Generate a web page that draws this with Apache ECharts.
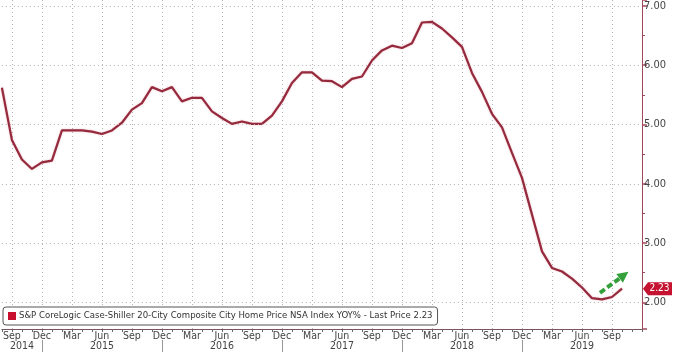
<!DOCTYPE html>
<html>
<head>
<meta charset="utf-8">
<script src="https://cdn.jsdelivr.net/npm/echarts@6/dist/echarts.min.js"></script>
<style>
html,body{margin:0;padding:0;background:#fff;}
#chart{width:680px;height:358px;}
</style>
</head>
<body>
<div id="chart"></div>
<script>
// Monthly positions on the axis (Aug 2014 .. Dec 2019)
const categories = [
  '2014-08','2014-09','2014-10','2014-11','2014-12',
  '2015-01','2015-02','2015-03','2015-04','2015-05','2015-06','2015-07','2015-08','2015-09','2015-10','2015-11','2015-12',
  '2016-01','2016-02','2016-03','2016-04','2016-05','2016-06','2016-07','2016-08','2016-09','2016-10','2016-11','2016-12',
  '2017-01','2017-02','2017-03','2017-04','2017-05','2017-06','2017-07','2017-08','2017-09','2017-10','2017-11','2017-12',
  '2018-01','2018-02','2018-03','2018-04','2018-05','2018-06','2018-07','2018-08','2018-09','2018-10','2018-11','2018-12',
  '2019-01','2019-02','2019-03','2019-04','2019-05','2019-06','2019-07','2019-08','2019-09','2019-10','2019-11','2019-12'
];
// S&P CoreLogic Case-Shiller 20-City YoY %
const values = [
  5.62, 4.74, 4.41, 4.25, 4.36, 4.39, 4.90, 4.90, 4.90, 4.88, 4.84, 4.90,
  5.03, 5.25, 5.36, 5.63, 5.56, 5.63, 5.39, 5.45, 5.45, 5.22, 5.11, 5.01,
  5.05, 5.01, 5.01, 5.15, 5.39, 5.70, 5.88, 5.88, 5.74, 5.73, 5.63, 5.77,
  5.81, 6.08, 6.25, 6.33, 6.29, 6.37, 6.72, 6.73, 6.62, 6.47, 6.31, 5.87,
  5.55, 5.18, 4.95, 4.52, 4.10, 3.48, 2.86, 2.58, 2.52, 2.40, 2.25, 2.07,
  2.05, 2.09, 2.23
];
const monthNames = ['Jan','Feb','Mar','Apr','May','Jun','Jul','Aug','Sep','Oct','Nov','Dec'];
const labelMonths = [3, 6, 9, 12];
const yearLabelAt = ['2014-10','2015-06','2016-06','2017-06','2018-06','2019-06'];
const yGridValues = [2, 3, 4, 5, 6, 7];
// green annotation arrow (month-position, value)
const arrowFrom = [59.8, 2.16];
const arrowTo = [62.2, 2.46];

const lastPrice = values[values.length - 1];
const seriesName = 'S&P CoreLogic Case-Shiller 20-City Composite City Home Price NSA Index YOY% - Last Price ' + lastPrice.toFixed(2);
const narrow = "'Liberation Sans Narrow', 'Arial Narrow', 'DejaVu Sans Condensed', sans-serif";
const monthOf = v => parseInt(v.slice(5), 10);
const lastIdx = categories.length - 1;

const chart = echarts.init(document.getElementById('chart'), null, {renderer: 'canvas'});
chart.setOption({
  animation: false,
  backgroundColor: '#fff',
  grid: {left: 0, right: 38, top: 0, bottom: 29, containLabel: false},
  legend: {
    left: 3, top: 307,
    data: [{name: seriesName, itemStyle: {color: '#c8102e'}}],
    icon: 'rect', itemWidth: 8, itemHeight: 8,
    backgroundColor: '#fff', borderColor: '#555', borderWidth: 1, borderRadius: 3,
    padding: [4, 5],
    textStyle: {fontFamily: narrow, fontSize: 9.5, color: '#333', padding: [0, 0, 0, -2]},
    selectedMode: false
  },
  xAxis: [
    {
      type: 'category', data: categories, boundaryGap: false,
      axisLine: {show: true, onZero: false, lineStyle: {color: '#7a5560', width: 1}},
      axisTick: {show: true, interval: 0, length: 3, lineStyle: {color: '#666'}},
      axisLabel: {
        interval: (i, v) => i < lastIdx && labelMonths.includes(monthOf(v)),
        formatter: v => monthNames[monthOf(v) - 1],
        fontFamily: narrow, fontSize: 10.5, color: '#444', margin: 2
      },
      splitLine: {
        show: true,
        interval: (i, v) => i < lastIdx && labelMonths.includes(monthOf(v)),
        lineStyle: {color: '#b5b5b5', type: [1, 3], width: 1}
      }
    },
    {
      type: 'category', data: categories, boundaryGap: false, position: 'bottom', offset: 11,
      axisLine: {show: false, onZero: false},
      axisTick: {show: true, interval: (i, v) => i < lastIdx && monthOf(v) === 12, length: 12, lineStyle: {color: '#999'}},
      axisLabel: {
        interval: (i, v) => yearLabelAt.includes(v),
        formatter: v => v.slice(0, 4),
        fontFamily: narrow, fontSize: 10.5, color: '#444', margin: 1
      },
      splitLine: {show: false}
    },
    {
      type: 'value', min: 0, max: lastIdx, show: false, axisLine: {onZero: false}
    }
  ],
  yAxis: {
    type: 'value', position: 'right', min: 1.55, max: 7.1, splitNumber: 5,
    axisLine: {show: true, onZero: false, lineStyle: {color: '#a3485a', width: 1}},
    axisTick: {show: true, length: 5, lineStyle: {color: '#a3485a', width: 1.5}},
    minorTick: {show: true, splitNumber: 2, length: 3, lineStyle: {color: '#a3485a'}},
    axisLabel: {
      formatter: v => v.toFixed(2), showMinLabel: false, showMaxLabel: false,
      fontFamily: narrow, fontSize: 11, color: '#444', margin: 2
    },
    splitLine: {show: false}
  },
  series: [
    {
      name: 'grid', type: 'line', data: values, xAxisIndex: 0, symbol: 'none',
      lineStyle: {opacity: 0}, silent: true, z: 1, legendHoverLink: false,
      markLine: {
        silent: true, symbol: ['none', 'none'], label: {show: false},
        lineStyle: {color: '#b5b5b5', type: [1, 3], width: 1},
        data: yGridValues.map(v => ({yAxis: v}))
      }
    },
    {
      name: seriesName, type: 'line', data: values, xAxisIndex: 0,
      symbol: 'none', smooth: false, z: 3,
      lineStyle: {color: '#952a3d', width: 2.2, shadowColor: 'rgba(220,120,140,0.5)', shadowBlur: 2},
      itemStyle: {color: '#952a3d'},
      markPoint: {
        silent: true,
        data: [{
          coord: [categories[lastIdx], lastPrice],
          symbol: 'path://M0,6.5 L5,0 L29,0 L29,13 L5,13 Z',
          symbolSize: [29, 13], symbolKeepAspect: false, symbolOffset: [15.5, 0],
          itemStyle: {color: '#c41230'},
          label: {show: true, position: 'inside', formatter: lastPrice.toFixed(2),
                  color: '#fff', fontSize: 10, fontFamily: narrow, offset: [2, 0]}
        }]
      }
    },
    {
      name: 'arrow', type: 'lines', coordinateSystem: 'cartesian2d', xAxisIndex: 2, yAxisIndex: 0,
      silent: true, z: 4,
      symbol: ['none', 'triangle'], symbolSize: [13, 11],
      lineStyle: {color: '#34a03c', width: 4, type: [6, 3], opacity: 1, curveness: 0},
      data: [{coords: [arrowFrom, arrowTo]}]
    }
  ]
});
</script>
</body>
</html>
